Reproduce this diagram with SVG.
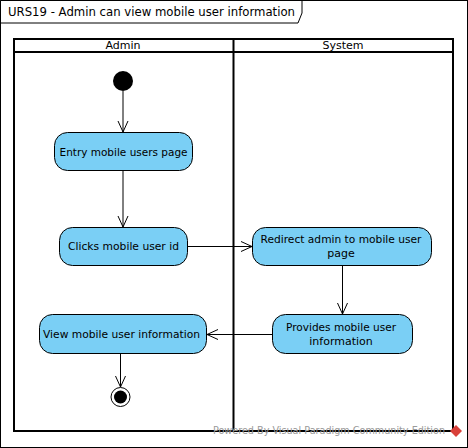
<svg xmlns="http://www.w3.org/2000/svg" width="468" height="448" viewBox="0 0 468 448">
<style>
.frame{fill:#fff;stroke:#000;stroke-width:1}
.lane{fill:none;stroke:#000;stroke-width:2}
.act{fill:#7ACFF5;stroke:#000;stroke-width:1}
.t{font-family:"DejaVu Sans",sans-serif;font-size:11px;fill:#000;text-anchor:middle}
.title{font-family:"DejaVu Sans",sans-serif;font-size:12.5px;fill:#000}
.edge{fill:none;stroke:#000;stroke-width:1}
.wm{font-family:"DejaVu Sans",sans-serif;font-size:10.5px;fill:#9a9a9a}
</style>
<defs>
<marker id="arr" viewBox="0 0 12 12" refX="11" refY="6" markerWidth="12" markerHeight="12" markerUnits="userSpaceOnUse" orient="auto">
<path d="M0,1 L11,6 L0,11" fill="none" stroke="#000" stroke-width="1"/>
</marker>
</defs>
<rect x="0.5" y="0.5" width="467" height="447" class="frame"/>
<g id="title">
<path d="M0.5,0.5 H302 V13 L298,23 H0.5 Z" class="frame"/>
<text x="8" y="16" class="title" textLength="287" lengthAdjust="spacingAndGlyphs">URS19 - Admin can view mobile user information</text>
</g>
<g id="swimlanes">
<rect x="14" y="39" width="439" height="392" class="lane"/>
<line x1="14" y1="52" x2="453" y2="52" class="lane"/>
<line x1="233.5" y1="39" x2="233.5" y2="431" class="lane"/>
<text x="123" y="49" class="t">Admin</text>
<text x="343" y="49" class="t">System</text>
</g>
<g id="connectors">
<line x1="123" y1="91" x2="123" y2="132" class="edge" marker-end="url(#arr)"/>
<line x1="123" y1="171" x2="123" y2="227" class="edge" marker-end="url(#arr)"/>
<line x1="188" y1="246.5" x2="252" y2="246.5" class="edge" marker-end="url(#arr)"/>
<line x1="342.5" y1="266" x2="342.5" y2="314" class="edge" marker-end="url(#arr)"/>
<line x1="272" y1="334.5" x2="207" y2="334.5" class="edge" marker-end="url(#arr)"/>
<line x1="120.5" y1="354" x2="120.5" y2="387" class="edge" marker-end="url(#arr)"/>
</g>
<g id="initial">
<circle cx="123" cy="81" r="10" fill="#000"/>
</g>
<g id="entry">
<rect x="54.5" y="132.5" width="138" height="38" rx="13" class="act"/>
<text x="123.5" y="155.5" class="t" textLength="128" lengthAdjust="spacingAndGlyphs">Entry mobile users page</text>
</g>
<g id="clicks">
<rect x="59.5" y="227.5" width="128" height="38" rx="13" class="act"/>
<text x="123.5" y="250" class="t" textLength="111" lengthAdjust="spacingAndGlyphs">Clicks mobile user id</text>
</g>
<g id="redirect">
<rect x="252.5" y="227.5" width="179" height="38" rx="13" class="act"/>
<text x="341" y="243" class="t" textLength="161" lengthAdjust="spacingAndGlyphs">Redirect admin to mobile user</text>
<text x="341" y="257" class="t">page</text>
</g>
<g id="provides">
<rect x="272.5" y="314.5" width="140" height="39" rx="13" class="act"/>
<text x="341" y="331" class="t" textLength="110" lengthAdjust="spacingAndGlyphs">Provides mobile user</text>
<text x="341" y="345" class="t">information</text>
</g>
<g id="view">
<rect x="39.5" y="314.5" width="167" height="39" rx="13" class="act"/>
<text x="121.5" y="338" class="t" textLength="157" lengthAdjust="spacingAndGlyphs">View mobile user information</text>
</g>
<g id="final">
<circle cx="120.5" cy="397" r="9.5" fill="#fff" stroke="#000" stroke-width="1"/>
<circle cx="120.5" cy="397" r="6.5" fill="#000"/>
</g>
<g id="watermark">
<text x="213" y="434" class="wm" textLength="232" lengthAdjust="spacingAndGlyphs">Powered By Visual Paradigm Community Edition</text>
<path d="M456,425 L462,431 L456,437 L450,431 Z" fill="#d9403a"/>
</g>
</svg>
